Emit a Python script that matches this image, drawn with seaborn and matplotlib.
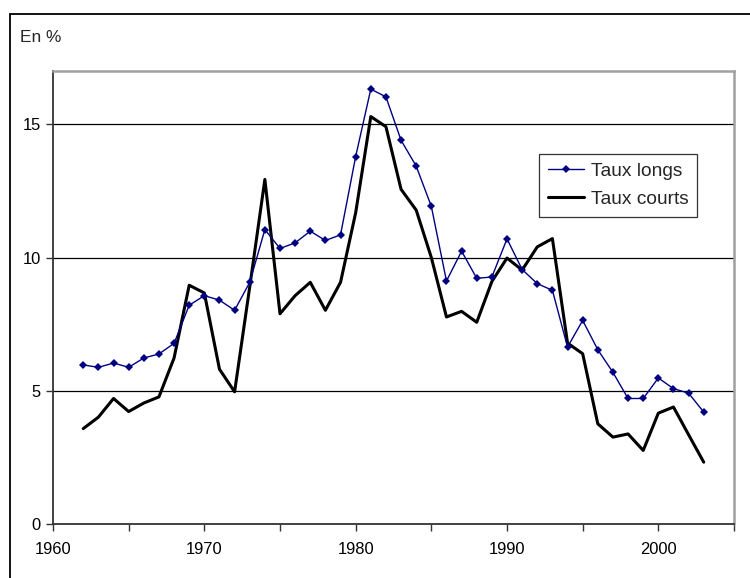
import numpy as np
import pandas as pd
import matplotlib
matplotlib.use("Agg")
import matplotlib.pyplot as plt
from matplotlib.patches import Rectangle
from matplotlib.lines import Line2D
import seaborn as sns

years = list(range(1962, 2004))

taux_longs = [5.97, 5.88, 6.04, 5.88, 6.23, 6.38, 6.78, 8.21, 8.57, 8.40,
              8.02, 9.07, 11.05, 10.34, 10.55, 10.99, 10.64, 10.85, 13.79, 16.32,
              16.03, 14.40, 13.43, 11.92, 9.12, 10.24, 9.22, 9.27, 10.70, 9.55,
              9.02, 8.77, 6.64, 7.64, 6.54, 5.69, 4.71, 4.71, 5.48, 5.08,
              4.91, 4.20]

taux_courts = [3.58, 4.01, 4.71, 4.22, 4.54, 4.77, 6.23, 8.96, 8.67, 5.81,
               4.96, 8.90, 12.93, 7.89, 8.57, 9.07, 8.02, 9.07, 11.68, 15.29,
               14.91, 12.56, 11.78, 10.00, 7.77, 7.98, 7.57, 9.10, 9.98, 9.53,
               10.40, 10.71, 6.79, 6.39, 3.76, 3.26, 3.38, 2.76, 4.16, 4.39,
               3.35, 2.32]

series_names = ["Taux longs", "Taux courts"]
x_ticks = list(range(1960, 2006, 5))
x_labels = [str(y) if y % 10 == 0 else "" for y in x_ticks]
y_ticks = [0, 5, 10, 15]

df = pd.DataFrame({
    "Année": years,
    series_names[0]: taux_longs,
    series_names[1]: taux_courts,
})

sns.set_theme(style="white")
plt.rcParams["font.family"] = ["Liberation Sans", "DejaVu Sans"]

fig = plt.figure(figsize=(7.5, 5.78), dpi=100)
ax = fig.add_axes([53 / 750, 1 - 524 / 578, (734 - 53) / 750, (524 - 71) / 578])

for y in y_ticks[1:]:
    ax.axhline(y, color="black", lw=0.9, zorder=0)

sns.lineplot(data=df, x="Année", y=series_names[0], color="#000080", lw=1.0,
             marker="D", markersize=4.5, markeredgewidth=0, ax=ax, zorder=3)
sns.lineplot(data=df, x="Année", y=series_names[1], color="black", lw=2.2,
             ax=ax, zorder=2)

ax.set_xlim(1960, 2005)
ax.set_ylim(0, 17)
ax.set_xticks(x_ticks)
ax.set_xticklabels(x_labels)
ax.set_yticks(y_ticks)
ax.set_xlabel("")
ax.set_ylabel("")
ax.tick_params(axis="both", direction="out", length=5, width=1, color="#333333",
               labelsize=11.9, labelcolor="black", pad=4, bottom=True, left=True)
ax.tick_params(axis="x", pad=8)

for side in ("left", "bottom"):
    ax.spines[side].set_color("#333333")
    ax.spines[side].set_linewidth(1.3)
for side in ("top", "right"):
    ax.spines[side].set_color("#a0a0a0")
    ax.spines[side].set_linewidth(1.8)

handles = [
    Line2D([], [], color="#000080", lw=1.0, marker="D", markersize=4.5, markeredgewidth=0),
    Line2D([], [], color="black", lw=2.2),
]
leg = fig.legend(
    handles, series_names, loc="upper left",
    bbox_to_anchor=(539 / 750, 1 - 154 / 578), borderaxespad=0,
    fontsize=13.8, frameon=True, fancybox=False, edgecolor="black",
    handlelength=1.9, handletextpad=0.35, borderpad=0.45, labelspacing=0.55,
)
leg.get_frame().set_linewidth(0.9)

fig.text(20 / 750, 1 - 42 / 578, "En %", fontsize=12.4, ha="left", va="baseline")

fig.patches.append(Rectangle((10 / 750, -0.1), 1.2, 1 - 14 / 578 + 0.1,
                             transform=fig.transFigure, fill=False,
                             edgecolor="black", lw=1.3, zorder=0))

fig.savefig("out.png", dpi=100)
